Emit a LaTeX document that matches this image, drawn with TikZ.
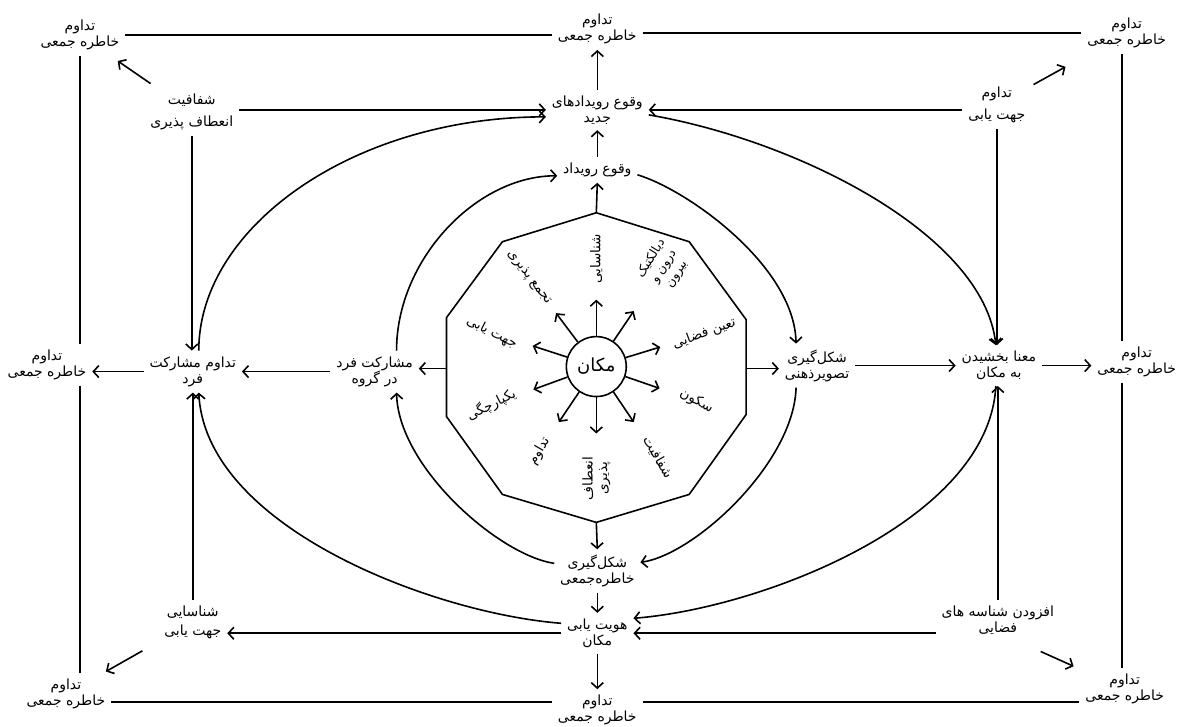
\documentclass[tikz,border=0pt]{standalone}
\usepackage{fontspec}
\usetikzlibrary{arrows.meta,calc}
\newfontfamily\arabicfont[Script=Arabic]{DejaVu Sans}
\TeXXeTstate=1
\newcommand{\RL}[1]{\beginR#1\endR}
\begin{document}
\begin{tikzpicture}[x=1pt,y=-1pt,
  txt/.style={font=\arabicfont\fontsize{14}{16}\selectfont, align=center, inner sep=1pt, outer sep=5pt},
  lab/.style={font=\arabicfont\fontsize{13.5}{14.5}\selectfont, align=center, inner sep=1pt},
  ln/.style={line width=1.6pt},
  arr/.style={line width=1.6pt, -{Straight Barb[length=5.5pt,width=12pt]}},
]
\fill[white] (0,0) rectangle (1177,726);

% corner / outer nodes
\node[txt] (TL) at (80,35)   {\RL{تداوم}\\\RL{خاطره جمعی}};
\node[txt] (TC) at (598,29)  {\RL{تداوم}\\\RL{خاطره جمعی}};
\node[txt] (TR) at (1128,33) {\RL{تداوم}\\\RL{خاطره جمعی}};
\node[txt] (ML) at (47,365)  {\RL{تداوم}\\\RL{خاطره جمعی}};
\node[txt] (MR) at (1138,362){\RL{تداوم}\\\RL{خاطره جمعی}};
\node[txt] (BL) at (66,695)  {\RL{تداوم}\\\RL{خاطره جمعی}};
\node[txt] (BC) at (598,711) {\RL{تداوم}\\\RL{خاطره جمعی}};
\node[txt] (BR) at (1126,690){\RL{تداوم}\\\RL{خاطره جمعی}};

% second ring
\node[txt] (S1) at (192,112) {\RL{شفافیت}\\[6pt]\RL{انعطاف پذیری}};
\node[txt] (J1) at (998,105) {\RL{تداوم}\\[6pt]\RL{جهت یابی}};
\node[txt] (SH) at (193,623) {\RL{شناسایی}\\[3pt]\RL{جهت یابی}};
\node[txt] (AF) at (999,621) {\RL{افزودن شناسه های}\\\RL{فضایی}};

% centre column
\node[txt] (V2) at (598,110) {\RL{وقوع رویدادهای}\\\RL{جدید}};
\node[txt] (V1) at (598,170) {\RL{وقوع  رویداد}};
\node[txt] (KM) at (598,572) {\RL{شکل‌گیری}\\\RL{خاطره‌جمعی}};
\node[txt] (HY) at (598,634) {\RL{هویت یابی}\\\RL{مکان}};

% middle row
\node[txt] (TM) at (193,372) {\RL{تداوم مشارکت}\\\RL{فرد}};
\node[txt] (MG) at (375,372) {\RL{مشارکت فرد}\\\RL{در گروه}};
\node[txt] (TZ) at (818,366) {\RL{شکل‌گیری}\\\RL{تصویرذهنی}};
\node[txt] (MB) at (1000,366){\RL{معنا بخشیدن}\\\RL{به مکان}};

% decagon
\coordinate (d1) at (597,213);
\coordinate (d2) at (690,242);
\coordinate (d3) at (747,320);
\coordinate (d4) at (747,415);
\coordinate (d5) at (690,495);
\coordinate (d6) at (597,523);
\coordinate (d7) at (503,495);
\coordinate (d8) at (447,417);
\coordinate (d9) at (447,318);
\coordinate (d10) at (503,242);
\coordinate (dL) at (447,369);
\coordinate (dR) at (747,369);
\draw[ln, line join=miter] (d1) -- (d2) -- (d3) -- (d4) -- (d5) -- (d6) -- (d7) -- (d8) -- (d9) -- (d10) -- cycle;

% hub
\node[circle, draw, line width=1.6pt, minimum size=60pt, inner sep=0pt,
      font=\arabicfont\fontsize{18}{20}\selectfont] (hub) at (597,367) {\RL{مکان}};

\node[lab, rotate=90]  (l1)  at ($(hub.center)+(90:108pt)$)   {\RL{شناسایی}};
\node[lab, rotate=58, font=\arabicfont\fontsize{12.5}{15}\selectfont]
                       (l2)  at ($(hub.center)+(56:121pt)$)   {\RL{دیالکتیک}\\\RL{درون و}\\\RL{بیرون}};
\node[lab, rotate=20]  (l3)  at ($(hub.center)+(17:113pt)$)   {\RL{تعین فضایی}};
\node[lab, rotate=-28] (l4)  at ($(hub.center)+(-19:106pt)$)  {\RL{سکون}};
\node[lab, rotate=-60] (l5)  at ($(hub.center)+(-56:110pt)$)  {\RL{شفافیت}};
\node[lab, rotate=90]  (l6)  at ($(hub.center)+(-90:112pt)$)  {\RL{انعطاف}\\\RL{پذیری}};
\node[lab, rotate=60]  (l7)  at ($(hub.center)+(-124:102pt)$) {\RL{تداوم}};
\node[lab, rotate=27]  (l8)  at ($(hub.center)+(-160:112pt)$) {\RL{یکپارچگی}};
\node[lab, rotate=-27] (l9)  at ($(hub.center)+(162:110pt)$)  {\RL{جهت یابی}};
\node[lab, rotate=-52] (l10) at ($(hub.center)+(127:112pt)$)  {\RL{تجمع پذیری}};

\draw[arr, shorten >=41pt] (hub) -- (l1.center);
\draw[arr, shorten >=54pt] (hub) -- (l2.center);
\draw[arr, shorten >=46pt] (hub) -- (l3.center);
\draw[arr, shorten >=39pt] (hub) -- (l4.center);
\draw[arr, shorten >=43pt] (hub) -- (l5.center);
\draw[arr, shorten >=45pt] (hub) -- (l6.center);
\draw[arr, shorten >=35pt] (hub) -- (l7.center);
\draw[arr, shorten >=45pt] (hub) -- (l8.center);
\draw[arr, shorten >=43pt] (hub) -- (l9.center);
\draw[arr, shorten >=45pt] (hub) -- (l10.center);

% outer frame lines
\draw[ln] (TL.east) -- (TL.east -| TC.west);
\draw[ln] (TC.east |- TR.west) -- (TR.west);
\draw[ln] ($(BL.east)+(0,8)$) -- ($(BL.east -| BC.west)+(0,8)$);
\draw[ln] ($(BC.east |- BR.west)+(0,13)$) -- ($(BR.west)+(0,13)$);
\draw[ln] (TL.south) -- (TL.south |- ML.north);
\draw[ln] (TL.south |- ML.south) -- (TL.south |- BL.north);
\coordinate (rx) at ($(TR.south)+(-5,0)$);
\draw[ln] (rx) -- (rx |- MR.north);
\draw[ln] (rx |- MR.south) -- (rx |- BR.north);

% diagonal arrows to corners
\draw[arr, shorten <=50pt, shorten >=46pt] (S1.center) -- (TL.center);
\draw[arr, shorten <=42pt, shorten >=70pt] (J1.center) -- (TR.center);
\draw[arr, shorten <=58pt, shorten >=46pt] (SH.center) -- (BL.center);
\draw[arr, shorten <=47pt, shorten >=56pt] ($(AF.center)+(0,12)$) -- (BR.center);

% middle row arrows
\draw[arr] (TM.west) -- (ML.east |- TM.west);
\draw[arr] (MG.west) -- (TM.east |- MG.west);
\draw[arr] (dL) -- (MG.east |- dL);
\draw[arr] (dR) -- (TZ.west |- dR);
\draw[arr] (TZ.east) -- (MB.west |- TZ.east);
\draw[arr] (MB.east) -- (MR.west |- MB.east);

% centre column arrows
\draw[arr] (V2.north) -- (TC.south);
\draw[arr] (V1.north) -- (V2.south);
\draw[arr] (d1) -- (V1.south);
\draw[arr] (d6) -- (KM.north);
\draw[arr] (KM.south) -- (HY.north);
\draw[arr] (HY.south) -- (BC.north);

% horizontal arrows of second ring
\draw[arr] (S1.east |- V2.west) -- (V2.west);
\draw[arr] (J1.west |- V2.east) -- (V2.east);
\draw[arr] (HY.west) -- (SH.east |- HY.west);
\draw[arr] (AF.west |- HY.east) -- (HY.east);

% vertical arrows of second ring
\draw[arr] (S1.south) -- (S1.south |- TM.north);
\draw[arr] (SH.north) -- (SH.north |- TM.south);
\draw[arr] (J1.south) -- (J1.south |- MB.north);
\draw[arr] (AF.north) -- (AF.north |- MB.south);

% curves
\draw[arr] ($(TM.north)+(6,0)$) .. controls +(0,-124) and +(-192,0) .. ($(V2.west)+(0,7)$);
\draw[arr] ($(MG.north)+(22,0)$) .. controls +(0,-91) and +(-81,0) .. ($(V1.west)+(0,6)$);
\draw[arr] ($(V1.east)+(0,5)$) .. controls +(50,15) and +(-2,-78) .. ($(TZ.north)+(-21,0)$);
\draw[arr] ($(V2.east)+(0,5)$) .. controls +(151,26) and +(-12,-110) .. ($(MB.north)+(-3,0)$);
\draw[arr] ($(HY.west)+(0,-10)$) .. controls +(-128,-10) and +(7,135) .. ($(TM.south)+(6,0)$);
\draw[arr] ($(KM.west)+(0,-8)$) .. controls +(-55,-8) and +(2,75) .. ($(MG.south)+(22,0)$);
\draw[arr] ($(TZ.south)+(-21,0)$) .. controls +(-2,75) and +(55,-8) .. ($(KM.east)+(0,-9)$);
\draw[arr] ($(MB.south)+(-3,0)$) .. controls +(-7,135) and +(128,-10) .. ($(HY.east)+(0,-15)$);
\end{tikzpicture}
\end{document}
